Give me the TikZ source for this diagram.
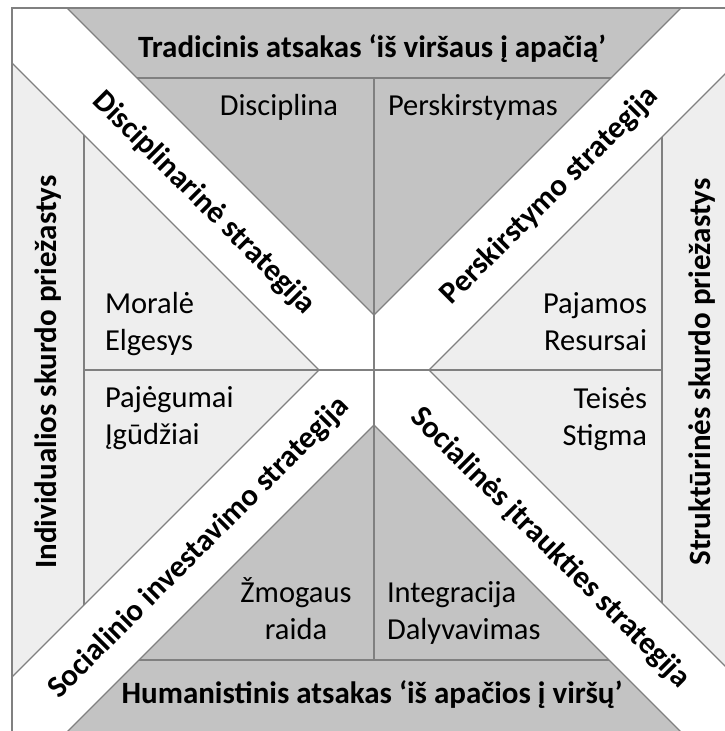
\documentclass[tikz,border=0pt]{standalone}
\usepackage{fontspec}
\setmainfont{Carlito}
\definecolor{darkfill}{HTML}{C3C3C3}
\definecolor{lightfill}{HTML}{EEEEEE}
\definecolor{edgegray}{HTML}{808080}
\newcommand{\twol}[3]{\begin{tabular}[t]{@{}#1@{}}#2\\#3\end{tabular}}
\begin{document}
\begin{tikzpicture}[x=1pt,y=-1pt,
  txt/.style={inner sep=0pt, outer sep=0pt, font=\fontsize{30.5}{37}\selectfont},
  hd/.style={inner sep=0pt, outer sep=0pt, font=\fontsize{31}{37}\selectfont\bfseries},
  edgeline/.style={draw=edgegray, line width=1.3pt}]
\useasboundingbox (0,0) rectangle (725,731);
\clip (0,0) rectangle (725,731);
\fill[white] (0,0) rectangle (725,731);
% regions
\fill[darkfill] (67,8) -- (681,8) -- (374,315) -- cycle;
\fill[darkfill] (67,732) -- (681,732) -- (374,425) -- cycle;
\fill[lightfill] (12,63) -- (12,677) -- (319,370) -- cycle;
\fill[lightfill] (736,63) -- (736,677) -- (429,370) -- cycle;
% lines
\draw[edgeline] (67,8) -- (374,315) -- (681,8);
\draw[edgeline] (137,78) -- (611,78);
\draw[edgeline] (67,732) -- (374,425) -- (681,732);
\draw[edgeline] (139,660) -- (609,660);
\draw[edgeline] (12,63) -- (319,370) -- (12,677);
\draw[edgeline] (84,135) -- (84,605);
\draw[edgeline] (736,63) -- (429,370) -- (736,677);
\draw[edgeline] (662,137) -- (662,603);
\draw[edgeline] (374,78) -- (374,660);
\draw[edgeline] (84,370) -- (662,370);
\draw[edgeline] (12,8) rectangle (736,732);
% texts
\node[hd, anchor=base] (top) at (372,57) {Tradicinis atsakas ‘iš viršaus į apačią’};
\node[hd, anchor=base] (bottom) at (372,703) {Humanistinis atsakas ‘iš apačios į viršų’};
\node[hd, rotate=90] (left) at (48,372) {Individualios skurdo priežastys};
\node[hd, rotate=90] (right) at (702,372) {Struktūrinės skurdo priežastys};
\node[txt, anchor=base east] (disc) at (338,115) {Disciplina};
\node[txt, anchor=base west] (pers) at (388,115) {Perskirstymas};
\node[txt, anchor=base west] (moral) at (105,313) {\twol{l}{Moralė}{Elgesys}};
\node[txt, anchor=base west] (paj) at (105,407) {\twol{l}{Pajėgumai}{Įgūdžiai}};
\node[txt, anchor=base east] (pajamos) at (647,313) {\twol{r}{Pajamos}{Resursai}};
\node[txt, anchor=base east] (teises) at (647,408) {\twol{r}{Teisės}{Stigma}};
\node[txt, anchor=base] (zmog) at (296,602) {\twol{c}{Žmogaus}{raida}};
\node[txt, anchor=base west] (integ) at (387,602) {\twol{l}{Integracija}{Dalyvavimas}};
\node[hd, rotate=-45] (sdisc) at (204,203) {Disciplinarinė strategija};
\node[hd, rotate=45] (spers) at (550,196) {Perskirstymo strategija};
\node[hd, rotate=45] (sinv) at (199,548) {Socialinio investavimo strategija};
\node[hd, rotate=-45] (sitr) at (550,548) {Socialinės įtraukties strategija};
\end{tikzpicture}
\end{document}
